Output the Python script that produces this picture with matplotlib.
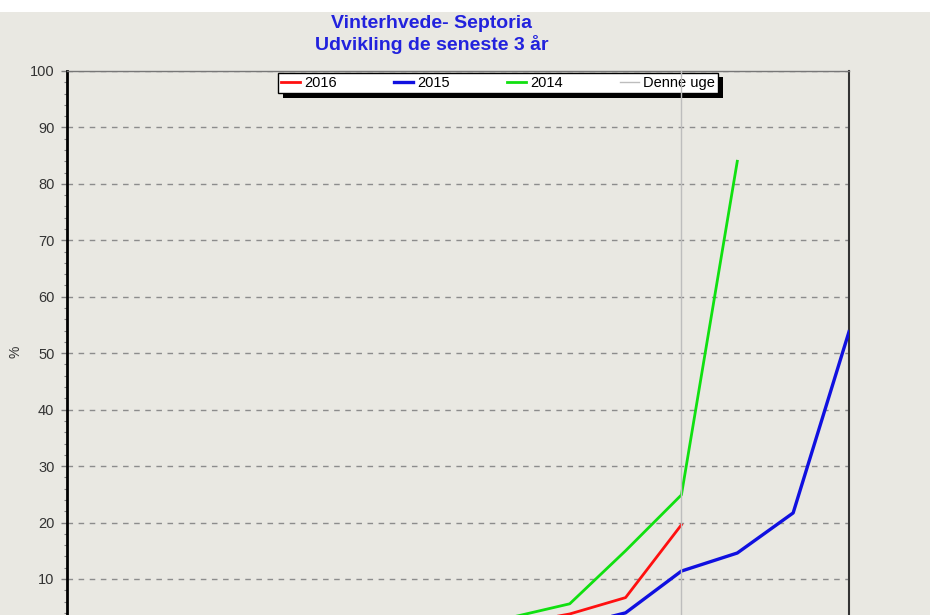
import matplotlib.pyplot as plt
from matplotlib.patches import Rectangle

# weeks (x positions) and % infected plants per season
uge = [9, 10, 11, 12, 13, 14, 15, 16, 17, 18, 19, 20, 21, 22, 23]
pct_2016 = [0, 0, 0, 0, 0, 0, 0.3, 0.8, 2.0, 3.8, 6.7, 19.6]
pct_2015 = [0, 0, 0, 0, 0, 0, 0, 0.2, 0.6, 1.5, 4.0, 11.4, 14.6, 21.7, 53.8]
pct_2014 = [0, 0, 0, 0, 0, 0, 0.4, 1.2, 3.3, 5.6, 15.0, 24.9, 84.0]
denne_uge = 20

plt.rcParams['font.family'] = ['Liberation Sans', 'DejaVu Sans']
bg = '#E9E8E2'

fig = plt.figure(figsize=(9.3, 6.15), dpi=100, facecolor=bg)
# white strip along the top edge
fig.patches.append(Rectangle((0, 1 - 12 / 615), 1, 12 / 615, transform=fig.transFigure,
                             facecolor='white', edgecolor='none', zorder=-5))

# axes runs past the bottom of the picture (0 is cut off)
ax = fig.add_axes([67 / 930, -0.0332, 782 / 930, 0.9178])
ax.set_facecolor(bg)

ax.plot(uge[:len(pct_2016)], pct_2016, color='#FF1010', lw=2, label='2016', zorder=3)
ax.plot(uge[:len(pct_2015)], pct_2015, color='#1010E0', lw=2.4, label='2015', zorder=3)
ax.plot(uge[:len(pct_2014)], pct_2014, color='#10E010', lw=2, label='2014', zorder=3)
ax.axvline(denne_uge, color='#BDBDBD', lw=1, label='Denne uge', zorder=7)

ax.set_xlim(uge[0], uge[-1])
ax.set_ylim(0, 100)
ax.set_yticks(range(10, 101, 10))
ax.set_yticks(range(0, 101, 2), minor=True)
ax.set_xticks([])
ax.yaxis.grid(True, which='major', linestyle=(0, (4, 4)), color='#8C8C8C', lw=1, zorder=1)
ax.tick_params(axis='y', which='major', direction='out', length=4, width=1,
               color='#808080', labelsize=10.5, labelcolor='#333333', pad=5)
ax.tick_params(axis='y', which='minor', direction='out', length=2, width=0.8, color='#808080')

ax.spines['left'].set_linewidth(2)
ax.spines['left'].set_color('black')
ax.spines['right'].set_linewidth(1.5)
ax.spines['right'].set_color('#333333')
ax.spines['top'].set_linewidth(1)
ax.spines['top'].set_color('#777777')
ax.spines['bottom'].set_visible(False)

leg = ax.legend(loc='upper left', ncol=4, mode='expand', fontsize=10.5,
                bbox_to_anchor=(278 / 930, 1 - 94 / 615, 440 / 930, 21 / 615),
                bbox_transform=fig.transFigure, borderaxespad=0, borderpad=0.2,
                handlelength=1.3, handletextpad=0.3, fancybox=False, framealpha=1)
leg.get_frame().set_edgecolor('black')
leg.get_frame().set_linewidth(1)
leg.set_zorder(5)
# black drop shadow behind legend
ax.add_patch(Rectangle((283 / 930, 1 - 98 / 615), 440 / 930, 21 / 615,
                       transform=fig.transFigure, facecolor='black', edgecolor='none',
                       clip_on=False, zorder=4.9))

fig.text(0.4645, 1 - 24 / 615, 'Vinterhvede- Septoria', ha='center', va='center',
         fontsize=14, fontweight='bold', color='#2222DD')
fig.text(0.4645, 1 - 44 / 615, 'Udvikling de seneste 3 år', ha='center', va='center',
         fontsize=14, fontweight='bold', color='#2222DD')
fig.text(15 / 930, 1 - 352 / 615, '%', rotation=90, ha='center', va='center',
         fontsize=10, color='#333333')

fig.savefig('out.png', dpi=100, facecolor=bg)
